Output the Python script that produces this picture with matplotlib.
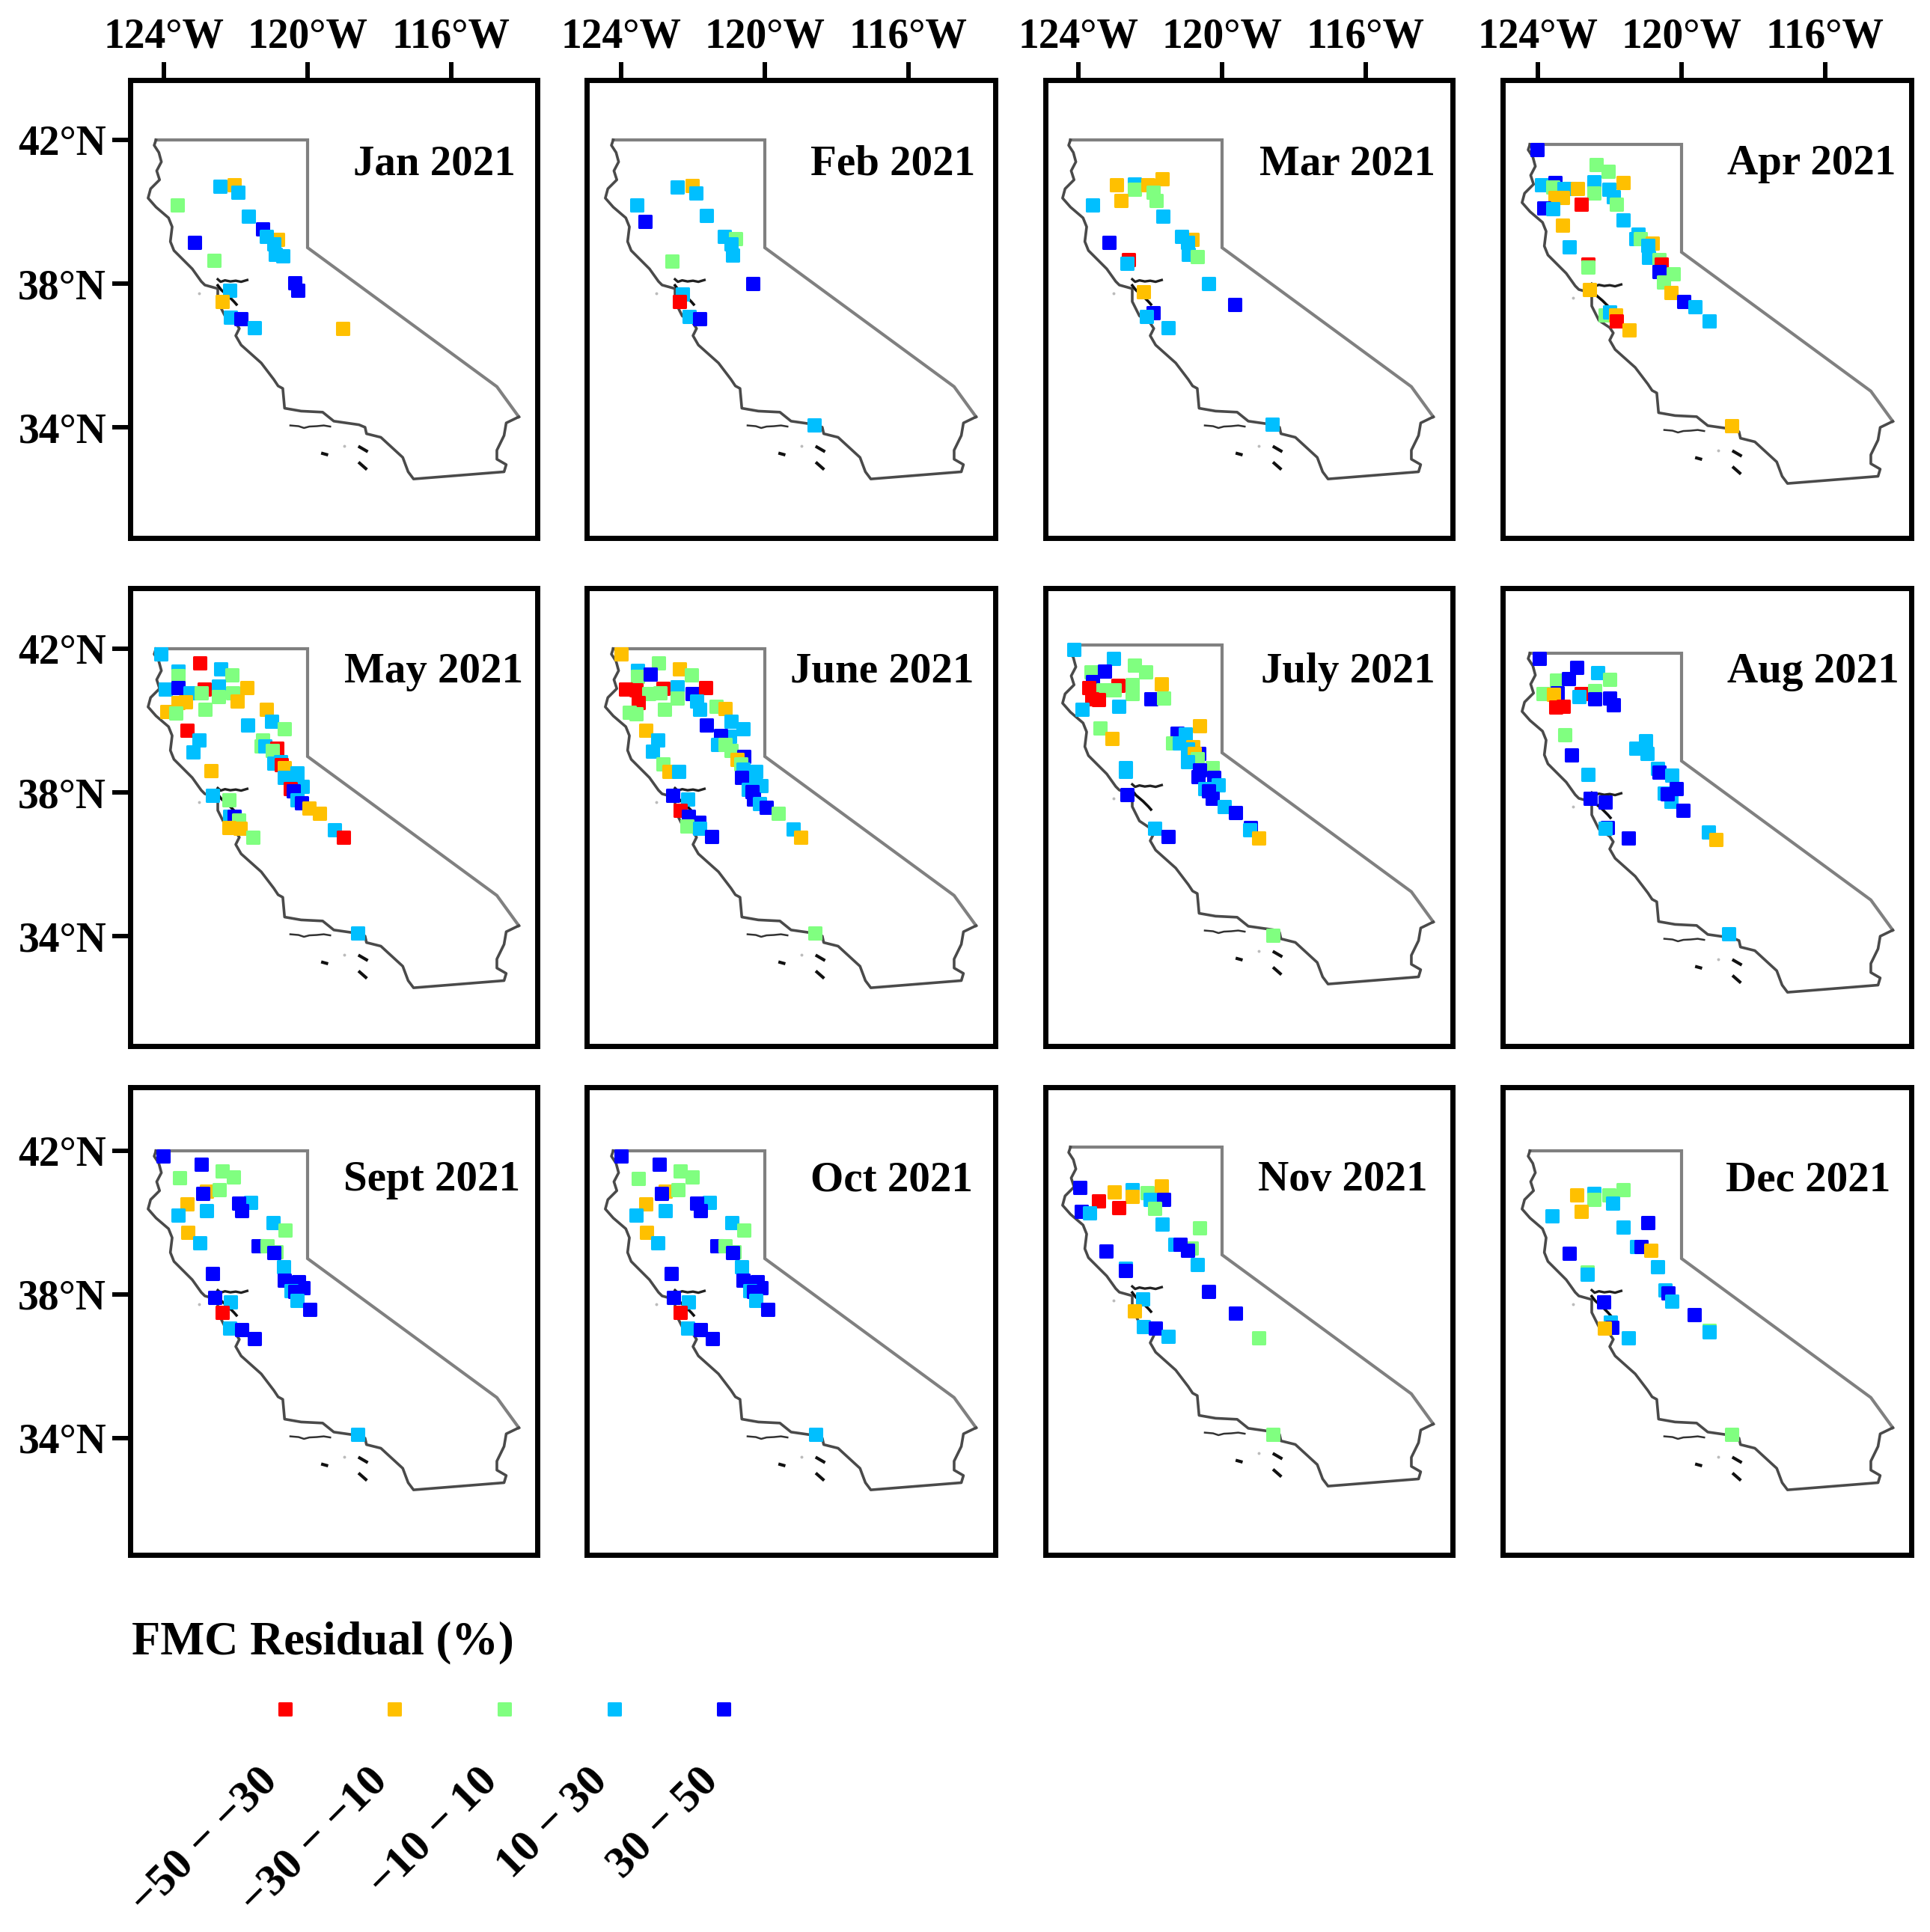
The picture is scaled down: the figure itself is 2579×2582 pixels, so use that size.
import matplotlib
matplotlib.use("Agg")
import matplotlib.pyplot as plt
from matplotlib.transforms import offset_copy

W, H = 2579, 2582
plt.rcParams['font.family'] = ['Liberation Serif', 'DejaVu Serif']

BIN_LABELS = ["\u221250 \u2212 \u221230", "\u221230 \u2212 \u221210", "\u221210 \u2212 10", "10 \u2212 30", "30 \u2212 50"]
BIN_COLORS = ["#FF0000", "#FFC000", "#80FF80", "#00BFFF", "#0000FF"]
LEGEND_TITLE = "FMC Residual (%)"
MONTHS = ["Jan 2021", "Feb 2021", "Mar 2021", "Apr 2021", "May 2021", "June 2021",
          "July 2021", "Aug 2021", "Sept 2021", "Oct 2021", "Nov 2021", "Dec 2021"]
LON_TICKS = [-124, -120, -116]
LON_LABELS = ["124°W", "120°W", "116°W"]
LAT_TICKS = [42, 38, 34]
LAT_LABELS = ["42°N", "38°N", "34°N"]

# California outline
BORDER_LON = [-124.22, -120.0, -120.0, -114.73, -114.12]
BORDER_LAT = [42.0, 42.0, 39.0, 35.13, 34.29]
COAST_LON = [-114.12, -114.47, -114.53, -114.73, -114.73, -114.47, -114.53, -117.05, -117.2, -117.35,
             -117.96, -118.36, -118.40, -118.57, -119.27, -119.58, -120.18, -120.64, -120.69, -120.82, -120.94,
             -121.29, -121.85, -122.0, -121.9, -122.0, -122.3, -122.5, -122.5, -122.86, -122.96,
             -123.21, -123.72, -123.82, -123.77, -123.87, -124.22, -124.44, -124.37, -124.12,
             -124.2, -124.07, -124.14, -124.27, -124.22]
COAST_LAT = [34.29, 34.12, 33.77, 33.36, 33.11, 32.96, 32.76, 32.56, 32.76, 33.16,
             33.72, 33.82, 34.0, 34.07, 34.17, 34.42, 34.45, 34.53, 35.08, 35.15, 35.33,
             35.79, 36.29, 36.55, 36.75, 36.9, 37.1, 37.5, 37.86, 37.96, 38.06,
             38.41, 38.92, 39.17, 39.58, 39.83, 40.13, 40.38, 40.64, 40.89,
             41.14, 41.39, 41.65, 41.85, 42.0]
DELTA_LON = [-122.5, -122.42, -122.3, -122.15, -122.0, -121.85, -121.68]
DELTA_LAT = [38.12, 38.05, 38.09, 38.06, 38.08, 38.05, 38.1]
BAY_LON = [-122.5, -122.4, -122.2, -122.05, -121.98]
BAY_LAT = [37.95, 37.82, 37.65, 37.5, 37.42]
ISLE1_LON = [-120.48, -120.25, -120.1, -119.95, -119.75, -119.55, -119.37]
ISLE1_LAT = [34.05, 34.03, 33.98, 34.02, 34.03, 34.05, 34.02]
ISLE2_LON = [-119.58, -119.47]
ISLE2_LAT = [33.27, 33.24]
ISLE3_LON = [-118.55, -118.36]
ISLE3_LAT = [33.45, 33.34]
ISLE4_LON = [-118.55, -118.38]
ISLE4_LAT = [33.0, 32.85]
DOT_LON = [-123.03, -118.98]
DOT_LAT = [37.73, 33.48]

jan_lon = [-122.05,-122.44,-121.94,-123.62,-121.64,-121.24,-120.84,-121.14,-120.94,-120.89,-120.69,-123.15,-122.61,-120.36,-120.28,-122.17,-122.38,-122.15,-121.85,-121.48,-119.02]
jan_lat = [40.74,40.71,40.54,40.18,39.88,39.53,39.22,39.32,39.10,38.82,38.77,39.14,38.65,38.03,37.81,37.81,37.50,37.07,37.02,36.78,36.76]
jan_bin = [1,3,3,2,3,4,1,3,3,3,3,4,2,4,4,3,1,3,4,3,1]

feb_lon = [-122.03,-122.44,-121.92,-123.57,-123.33,-121.62,-121.13,-120.82,-120.93,-120.89,-122.58,-120.34,-122.30,-122.37,-122.10,-121.82,-118.63]
feb_lat = [40.73,40.69,40.52,40.18,39.73,39.90,39.32,39.25,39.11,38.80,38.63,38.01,37.70,37.50,37.09,37.02,34.06]
feb_bin = [1,3,3,3,4,3,3,2,3,3,2,4,3,0,3,4,3]

mar_lon = [-122.93,-122.44,-122.44,-122.06,-121.66,-121.92,-121.83,-122.82,-123.60,-121.64,-120.83,-121.13,-120.95,-120.93,-120.69,-123.15,-122.60,-122.65,-120.37,-119.65,-122.18,-121.92,-122.10,-121.49,-118.61]
mar_lat = [40.76,40.77,40.63,40.75,40.91,40.54,40.31,40.31,40.18,39.87,39.22,39.31,39.14,38.81,38.76,39.14,38.67,38.56,38.00,37.42,37.78,37.18,37.09,36.77,34.09]
mar_bin = [1,3,2,1,1,2,2,1,3,3,1,3,3,3,2,4,0,3,3,4,1,4,3,3,3]

apr_lon = [-124.02,-122.37,-122.04,-123.90,-123.53,-123.59,-123.27,-123.10,-122.90,-122.43,-122.43,-122.43,-121.63,-122.02,-121.90,-121.81,-123.53,-123.32,-122.80,-123.84,-123.58,-123.31,-121.62,-123.13,-121.21,-121.27,-121.14,-120.82,-120.94,-120.92,-120.63,-122.61,-122.61,-120.57,-120.63,-120.22,-120.49,-120.29,-119.93,-119.62,-119.22,-122.57,-122.12,-122.00,-121.84,-121.82,-121.46,-118.61]
apr_lat = [41.85,41.44,41.26,40.87,40.93,40.82,40.77,40.77,40.77,40.87,40.96,40.65,40.93,40.74,40.55,40.33,40.52,40.52,40.33,40.23,40.21,39.74,39.90,39.15,39.49,39.37,39.37,39.24,39.19,38.85,38.80,38.67,38.59,38.67,38.45,38.39,38.16,37.88,37.62,37.48,37.08,37.96,37.24,37.34,37.24,37.08,36.84,34.17]
apr_bin = [4,2,2,3,4,2,3,3,1,0,3,2,1,3,3,2,1,1,0,4,3,1,3,3,3,3,2,1,3,3,2,0,2,0,4,2,2,1,4,3,3,1,2,3,1,0,1,1]

may_lon = [-124.09,-123.01,-122.42,-122.10,-123.61,-123.61,-123.95,-123.60,-123.28,-122.87,-122.96,-122.48,-122.47,-122.08,-121.69,-121.96,-123.60,-123.40,-122.86,-123.91,-123.66,-121.14,-120.99,-120.64,-121.67,-123.36,-123.03,-123.19,-121.26,-121.30,-121.18,-120.86,-120.97,-120.75,-120.93,-120.72,-120.64,-122.68,-120.30,-120.64,-120.33,-120.15,-120.48,-120.39,-120.30,-120.17,-119.96,-119.67,-119.24,-119.00,-122.64,-122.19,-122.16,-122.04,-121.92,-122.19,-121.87,-121.52,-118.61]
may_lat = [41.86,41.61,41.44,41.27,41.38,41.24,40.87,40.91,40.78,40.88,40.78,40.96,40.66,40.78,40.91,40.54,40.50,40.52,40.32,40.24,40.20,40.32,39.98,39.78,39.88,39.72,39.45,39.13,39.46,39.30,39.30,39.22,39.16,38.86,38.82,38.78,38.68,38.61,38.54,38.41,38.34,38.17,38.11,38.04,37.79,37.71,37.57,37.41,36.95,36.75,37.91,37.79,37.33,37.33,37.23,37.03,37.01,36.76,34.09]
may_bin = [3,0,3,2,3,2,3,4,3,0,2,3,2,2,1,1,1,1,2,1,2,1,3,2,3,0,3,3,2,2,3,0,2,3,3,0,1,1,3,3,3,3,0,4,3,4,1,1,3,0,3,2,3,4,2,1,1,2,3]

jun_lon = [-124.01,-122.95,-122.38,-122.05,-123.54,-123.54,-123.19,-123.87,-123.59,-122.83,-123.23,-122.92,-122.43,-122.43,-122.03,-121.65,-121.90,-121.82,-123.53,-122.79,-123.77,-123.59,-121.35,-121.11,-120.94,-120.60,-121.62,-123.32,-122.97,-123.13,-120.97,-121.22,-121.31,-121.11,-120.94,-120.59,-120.78,-120.66,-120.60,-120.24,-120.28,-120.10,-120.64,-120.45,-120.35,-120.31,-120.14,-119.95,-119.63,-119.20,-118.99,-122.83,-122.67,-122.40,-122.57,-122.14,-122.36,-122.12,-121.84,-122.17,-121.82,-121.47,-118.61]
jun_lat = [41.86,41.60,41.44,41.28,41.40,41.22,41.29,40.88,40.86,40.89,40.74,40.77,40.94,40.63,40.76,40.92,40.54,40.32,40.51,40.32,40.23,40.19,40.39,40.33,39.97,39.78,39.88,39.73,39.45,39.14,39.56,39.59,39.33,39.33,39.17,39.00,38.91,38.79,38.65,38.58,38.38,38.18,38.42,38.08,38.03,37.82,37.69,37.58,37.42,36.97,36.76,38.79,38.58,38.58,37.92,37.81,37.49,37.33,37.16,37.06,37.00,36.78,34.09]
jun_bin = [1,2,1,2,3,2,4,0,0,0,2,2,3,2,4,0,3,3,0,2,2,2,2,1,3,3,4,1,3,3,3,4,3,2,2,4,1,2,3,3,3,3,4,3,4,4,3,4,2,3,1,2,1,3,4,3,0,4,4,2,3,4,2]

jul_lon = [-124.12,-123.03,-122.43,-122.12,-123.65,-123.28,-123.60,-123.70,-122.90,-123.32,-123.00,-122.51,-122.51,-121.69,-121.97,-121.62,-123.63,-123.44,-122.87,-123.89,-123.40,-123.06,-120.63,-121.26,-121.03,-121.38,-121.19,-120.82,-120.96,-120.65,-120.78,-120.68,-120.96,-120.28,-120.63,-120.23,-120.67,-120.11,-120.47,-120.37,-120.28,-119.93,-119.63,-119.21,-119.22,-118.97,-122.68,-122.68,-122.65,-121.88,-121.51,-118.58]
jul_lat = [41.87,41.62,41.44,41.26,41.26,41.28,40.98,40.82,40.88,40.76,40.74,40.90,40.65,40.91,40.51,40.53,40.49,40.48,40.30,40.20,39.68,39.40,39.75,39.54,39.52,39.28,39.28,39.17,39.10,38.97,38.97,38.83,38.76,38.58,38.53,38.31,38.33,38.10,37.99,37.94,37.73,37.49,37.33,36.92,36.85,36.63,38.58,38.48,37.84,36.90,36.67,33.91]
jul_bin = [3,3,2,2,2,4,4,0,0,2,2,2,2,1,4,2,0,0,3,3,2,1,1,4,3,2,3,1,3,4,1,2,3,2,4,4,4,3,3,4,4,3,4,4,3,1,3,3,4,3,4,2]

aug_lon = [-123.96,-122.91,-122.34,-122.01,-123.47,-123.14,-123.85,-123.45,-123.57,-122.79,-122.41,-122.86,-122.41,-122.01,-121.90,-123.49,-123.30,-123.26,-123.06,-122.60,-121.01,-121.28,-120.95,-120.67,-120.63,-120.27,-120.47,-120.29,-120.15,-120.40,-119.96,-119.25,-119.04,-122.55,-122.13,-122.06,-122.13,-121.47,-118.68]
aug_lat = [41.86,41.61,41.46,41.28,41.26,41.30,40.87,40.89,40.85,40.87,40.96,40.80,40.73,40.75,40.56,40.51,40.52,39.73,39.17,38.62,39.57,39.36,39.20,38.80,38.68,38.61,38.11,37.88,38.22,38.09,37.62,37.02,36.81,37.96,37.85,37.14,37.12,36.85,34.18]
aug_bin = [4,4,3,2,2,4,2,4,1,0,2,3,4,4,4,0,0,2,4,3,3,3,3,3,4,3,3,3,4,4,4,3,1,4,4,4,3,4,3]

sep_lon = [-124.03,-122.96,-122.38,-122.06,-123.56,-122.81,-122.91,-122.46,-123.35,-123.60,-122.81,-121.58,-121.92,-121.83,-120.95,-120.62,-123.33,-122.99,-121.37,-121.13,-120.88,-120.94,-120.67,-122.64,-120.64,-120.24,-120.13,-120.45,-120.35,-120.29,-119.94,-122.58,-122.15,-122.38,-122.17,-121.83,-121.47,-118.61]
sep_lat = [41.85,41.62,41.44,41.28,41.24,40.87,40.81,40.92,40.52,40.20,40.33,40.56,40.54,40.33,39.99,39.79,39.73,39.44,39.35,39.35,39.19,39.17,38.77,38.58,38.40,38.35,38.18,38.10,38.08,37.83,37.58,37.92,37.80,37.50,37.07,37.02,36.78,34.10]
sep_bin = [4,4,2,2,2,1,4,2,1,3,3,3,4,4,3,2,1,3,4,2,2,4,3,4,4,4,4,3,4,3,4,4,3,0,3,4,4,3]

oct_lon = [-124.01,-122.93,-122.35,-122.03,-123.53,-122.78,-122.88,-122.42,-123.32,-123.58,-122.78,-121.55,-121.90,-121.80,-120.92,-120.59,-123.30,-122.97,-121.34,-121.10,-120.85,-120.90,-120.65,-122.61,-120.61,-120.21,-120.10,-120.42,-120.32,-120.26,-119.92,-122.55,-122.12,-122.35,-122.14,-121.80,-121.45,-118.58]
oct_lat = [41.86,41.62,41.44,41.28,41.22,40.87,40.81,40.92,40.52,40.20,40.33,40.56,40.54,40.33,39.99,39.79,39.72,39.44,39.35,39.35,39.19,39.17,38.77,38.58,38.40,38.35,38.18,38.10,38.08,37.83,37.58,37.92,37.80,37.50,37.07,37.02,36.78,34.10]
oct_bin = [4,4,2,2,2,1,4,2,1,3,3,3,4,4,3,2,1,3,4,2,2,4,3,4,4,4,4,3,4,3,4,4,3,0,3,4,4,3]

nov_lon = [-123.96,-122.99,-122.50,-122.50,-122.08,-121.68,-122.00,-121.62,-121.88,-123.44,-122.88,-123.91,-123.68,-121.67,-120.63,-123.22,-122.69,-122.69,-121.31,-120.85,-121.17,-120.96,-120.69,-120.38,-119.63,-118.97,-122.21,-122.44,-122.19,-121.86,-121.51,-118.58]
nov_lat = [40.88,40.75,40.82,40.63,40.72,40.91,40.55,40.55,40.29,40.51,40.31,40.21,40.17,39.86,39.76,39.11,38.63,38.56,39.30,39.18,39.30,39.13,38.73,37.98,37.38,36.69,37.77,37.44,37.01,36.95,36.73,34.01]
nov_bin = [4,1,3,1,2,1,3,4,2,0,0,4,3,3,2,4,3,4,3,2,4,4,3,4,4,2,3,1,3,4,3,2]

dec_lon = [-122.92,-122.43,-122.43,-122.03,-121.63,-121.92,-122.80,-123.60,-121.63,-120.94,-121.25,-121.13,-120.85,-120.67,-123.13,-122.63,-122.63,-120.45,-120.37,-120.28,-119.64,-119.22,-119.22,-122.17,-121.97,-121.94,-122.15,-121.47,-118.60]
dec_lat = [40.77,40.82,40.65,40.77,40.92,40.54,40.32,40.19,39.88,39.99,39.34,39.33,39.22,38.77,39.14,38.63,38.56,38.13,38.04,37.82,37.44,37.00,36.95,37.80,37.23,37.09,37.06,36.79,34.10]
dec_bin = [1,3,2,2,2,3,1,3,3,4,3,4,1,3,4,2,3,3,4,3,4,2,3,4,3,4,1,3,2]

SERIES = [(jan_lon, jan_lat, jan_bin), (feb_lon, feb_lat, feb_bin), (mar_lon, mar_lat, mar_bin),
          (apr_lon, apr_lat, apr_bin), (may_lon, may_lat, may_bin), (jun_lon, jun_lat, jun_bin),
          (jul_lon, jul_lat, jul_bin), (aug_lon, aug_lat, aug_bin), (sep_lon, sep_lat, sep_bin),
          (oct_lon, oct_lat, oct_bin), (nov_lon, nov_lat, nov_bin), (dec_lon, dec_lat, dec_bin)]

# layout in output pixels
COL_L = [174, 784, 1397, 2008]
COL_R = [718, 1330, 1941, 2554]
COL_X120 = [411, 1022, 1633, 2247]
ROW_T = [107, 786, 1453]
ROW_B = [719, 1398, 2078]
ROW_Y42 = [187, 867, 1538]
PX_PER_DEG = 48.0
MAP_DY = [0, 0, 0, 6, 0, 0, -5, 6, 0, 0, -5, 0]
TITLE_R = [689, 1303, 1918, 2533, 699, 1302, 1918, 2538, 695, 1300, 1908, 2526]
TITLE_Y = [219, 898, 1577]
MARK_S = (16 * 0.72) ** 2
MARK_EDGE = 2.2

fig = plt.figure(figsize=(W / 100, H / 100), dpi=100, facecolor='white')


def px(x, y):
    return x / W, 1 - y / H


for i, month in enumerate(MONTHS):
    r, c = divmod(i, 4)
    l_, r_, t_, b_ = COL_L[c], COL_R[c], ROW_T[r], ROW_B[r]
    ax = fig.add_axes([l_ / W, 1 - b_ / H, (r_ - l_) / W, (b_ - t_) / H])
    ax.set_xlim(-120 + (l_ - COL_X120[c]) / PX_PER_DEG, -120 + (r_ - COL_X120[c]) / PX_PER_DEG)
    ax.set_ylim(42 - (b_ - ROW_Y42[r]) / PX_PER_DEG, 42 + (ROW_Y42[r] - t_) / PX_PER_DEG)
    for s in ax.spines.values():
        s.set_linewidth(5)
    if r == 0:
        ax.set_xticks(LON_TICKS, LON_LABELS, fontweight='bold')
    else:
        ax.set_xticks([])
    if c == 0:
        ax.set_yticks(LAT_TICKS, LAT_LABELS, fontweight='bold')
    else:
        ax.set_yticks([])
    ax.xaxis.tick_top()
    ax.tick_params(axis='both', length=17, width=4.3, labelsize=40, pad=6)

    tr = offset_copy(ax.transData, fig=fig, x=0, y=-MAP_DY[i], units='dots')
    ax.plot(BORDER_LON, BORDER_LAT, color='#808080', lw=3.0, transform=tr, solid_joinstyle='miter', zorder=2)
    ax.plot(COAST_LON, COAST_LAT, color='#4a4a4a', lw=2.6, transform=tr, zorder=2)
    ax.plot(DELTA_LON, DELTA_LAT, color='#222222', lw=2.4, transform=tr, zorder=2)
    ax.plot(BAY_LON, BAY_LAT, color='#111111', lw=2.6, transform=tr, zorder=2)
    ax.plot(ISLE1_LON, ISLE1_LAT, color='#333333', lw=1.8, transform=tr, zorder=2)
    for xs, ys in [(ISLE2_LON, ISLE2_LAT), (ISLE3_LON, ISLE3_LAT), (ISLE4_LON, ISLE4_LAT)]:
        ax.plot(xs, ys, color='#111111', lw=3.0, transform=tr, zorder=2)
    ax.scatter(DOT_LON, DOT_LAT, s=8, color='#bbbbbb', linewidths=0, transform=tr, zorder=2)

    lon, lat, bins = SERIES[i]
    ax.scatter(lon, lat, s=MARK_S, marker='s', c=[BIN_COLORS[b] for b in bins], edgecolors='face',
               linewidths=MARK_EDGE, joinstyle='round', transform=tr, zorder=3)
    x_t, y_t = px(TITLE_R[i], TITLE_Y[r])
    fig.text(x_t, y_t, month, ha='right', va='center', fontsize=41, fontweight='bold', zorder=5)

# legend, drawn on an overlay axes in pixel space
x_t, y_t = px(176, 2195)
fig.text(x_t, y_t, LEGEND_TITLE, ha='left', va='center', fontsize=45, fontweight='bold')
LEG_X = [381, 527, 674, 821, 967]
LEG_Y = 2284
LEG_LABEL_X = [363, 510, 657, 804, 952]
LEG_LABEL_Y = 2372
overlay = fig.add_axes([0, 0, 1, 1], facecolor='none')
overlay.set_xlim(0, W)
overlay.set_ylim(H, 0)
overlay.axis('off')
overlay.scatter(LEG_X, [LEG_Y] * 5, s=MARK_S, marker='s', c=BIN_COLORS, edgecolors='face',
                linewidths=MARK_EDGE, joinstyle='round')
for x, label in zip(LEG_LABEL_X, BIN_LABELS):
    overlay.text(x, LEG_LABEL_Y, label, rotation=45, rotation_mode='anchor', ha='right', va='center',
                 fontsize=43, fontweight='bold')

fig.savefig('out.png', dpi=100)
